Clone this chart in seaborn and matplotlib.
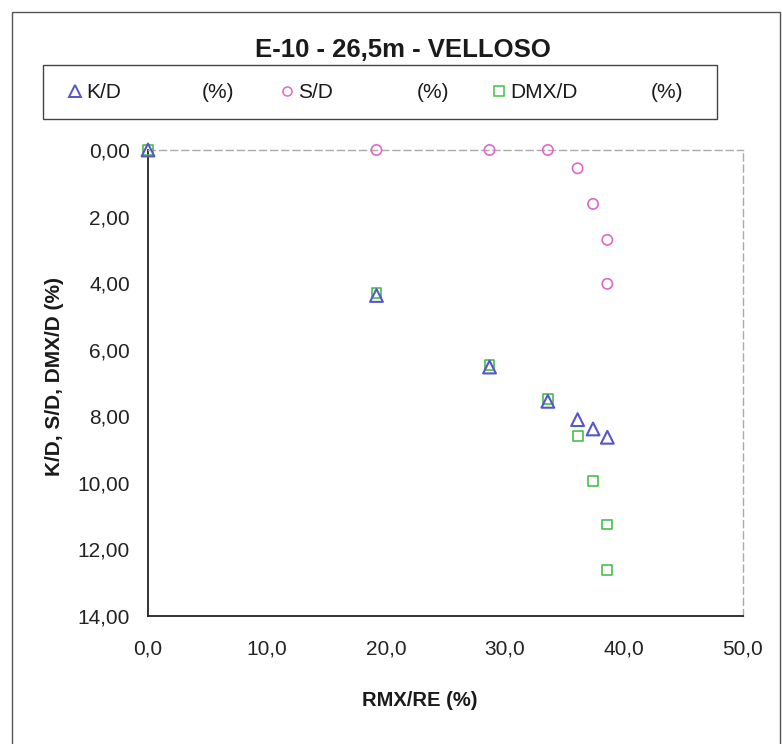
import matplotlib
matplotlib.use("Agg")
import matplotlib.pyplot as plt
from matplotlib.lines import Line2D
from matplotlib.patches import Rectangle
from matplotlib.ticker import FuncFormatter, MultipleLocator
import seaborn as sns

# Series values (RMX/RE on x, ratio on y, all in %)
kd_x = [0.0, 19.2, 28.7, 33.6, 36.1, 37.4, 38.6]
kd_y = [0.0, 4.37, 6.52, 7.55, 8.10, 8.38, 8.63]

sd_x = [19.2, 28.7, 33.6, 36.1, 37.4, 38.6, 38.6]
sd_y = [0.0, 0.0, 0.0, 0.55, 1.62, 2.70, 4.02]

dmx_x = [0.0, 19.2, 28.7, 33.6, 36.1, 37.4, 38.6, 38.6]
dmx_y = [0.0, 4.30, 6.45, 7.48, 8.58, 9.94, 11.25, 12.63]

series_names = ["K/D", "S/D", "DMX/D"]
unit_label = "(%)"
title = "E-10 - 26,5m - VELLOSO"
x_label = "RMX/RE (%)"
y_label = "K/D, S/D, DMX/D (%)"

sns.set_theme(style="white")
plt.rcParams["font.family"] = ["Liberation Sans", "DejaVu Sans"]

W, H = 782, 744
fig = plt.figure(figsize=(W / 100, H / 100), dpi=100)
fig.patch.set_facecolor("white")

ax = fig.add_axes([148 / W, 1 - 616 / H, (743 - 148) / W, (616 - 150) / H])

c_k = "#5656cc"
c_s = "#e066d0"
c_d = "#48c048"

sns.scatterplot(x=dmx_x, y=dmx_y, marker="s", s=50, facecolors="none",
                edgecolor=c_d, color=c_d, linewidth=1.2, ax=ax, zorder=3,
                clip_on=False)
sns.scatterplot(x=sd_x, y=sd_y, marker="o", s=55, facecolors="none",
                edgecolor=c_s, color=c_s, linewidth=1.2, ax=ax, zorder=3,
                clip_on=False)
sns.scatterplot(x=kd_x, y=kd_y, marker="^", s=85, facecolors="none",
                edgecolor=c_k, color=c_k, linewidth=1.5, ax=ax, zorder=4,
                clip_on=False)

ax.set_xlim(0, 50)
ax.set_ylim(14, 0)
ax.xaxis.set_major_locator(MultipleLocator(10))
ax.yaxis.set_major_locator(MultipleLocator(2))
ax.xaxis.set_major_formatter(FuncFormatter(lambda v, p: f"{v:.1f}".replace(".", ",")))
ax.yaxis.set_major_formatter(FuncFormatter(lambda v, p: f"{v:.2f}".replace(".", ",")))
ax.tick_params(axis="both", which="major", direction="inout", length=12, width=1,
               color="#222222", labelsize=15, labelcolor="#222222")
ax.tick_params(axis="x", pad=11)
ax.tick_params(axis="y", pad=7)
ax.set_xlabel("")
ax.set_ylabel("")

for side in ("left", "bottom"):
    ax.spines[side].set_color("#222222")
    ax.spines[side].set_linewidth(1.3)
for side in ("top", "right"):
    ax.spines[side].set_color("#aaaaaa")
    ax.spines[side].set_linewidth(1.0)
    ax.spines[side].set_linestyle((0, (5, 3)))

# Outer chart frame
fig.patches.append(Rectangle((12 / W, -0.02), (780 - 12) / W, 1 - 12 / H + 0.02,
                             transform=fig.transFigure, fill=False,
                             edgecolor="#555555", linewidth=1.0))

fig.text(403 / W, 1 - 57 / H, title, ha="center", va="baseline",
         fontsize=18.5, fontweight="bold", color="#1a1a1a")

fig.text(55 / W, 1 - 377 / H, y_label, rotation=90, ha="center", va="center",
         fontsize=15, fontweight="bold", color="#1a1a1a")
fig.text(420 / W, 1 - 701 / H, x_label, ha="center", va="center",
         fontsize=14.5, fontweight="bold", color="#1a1a1a")

# Legend box with the three series
fig.patches.append(Rectangle((43 / W, 1 - 119 / H), (717 - 43) / W, (119 - 65) / H,
                             transform=fig.transFigure, fill=False,
                             edgecolor="#444444", linewidth=1.0))
handles = [
    Line2D([], [], marker="^", linestyle="none", markerfacecolor="none",
           markeredgecolor=c_k, markeredgewidth=1.4, markersize=9),
    Line2D([], [], marker="o", linestyle="none", markerfacecolor="none",
           markeredgecolor=c_s, markeredgewidth=1.1, markersize=6.5),
    Line2D([], [], marker="s", linestyle="none", markerfacecolor="none",
           markeredgecolor=c_d, markeredgewidth=1.1, markersize=6.5),
]
leg = fig.legend(handles, series_names, ncol=3, loc="center left",
                 bbox_to_anchor=(67.5 / W, 1 - 93 / H),
                 frameon=False, fontsize=15, borderpad=0, borderaxespad=0,
                 handletextpad=0.2, columnspacing=7.6, handlelength=0.7)
for t in leg.get_texts():
    t.set_color("#1a1a1a")
for x_unit in (218, 433, 667):
    fig.text(x_unit / W, 1 - 93 / H, unit_label, ha="center", va="center",
             fontsize=15, color="#1a1a1a")

fig.savefig("out.png", dpi=100, facecolor="white")
